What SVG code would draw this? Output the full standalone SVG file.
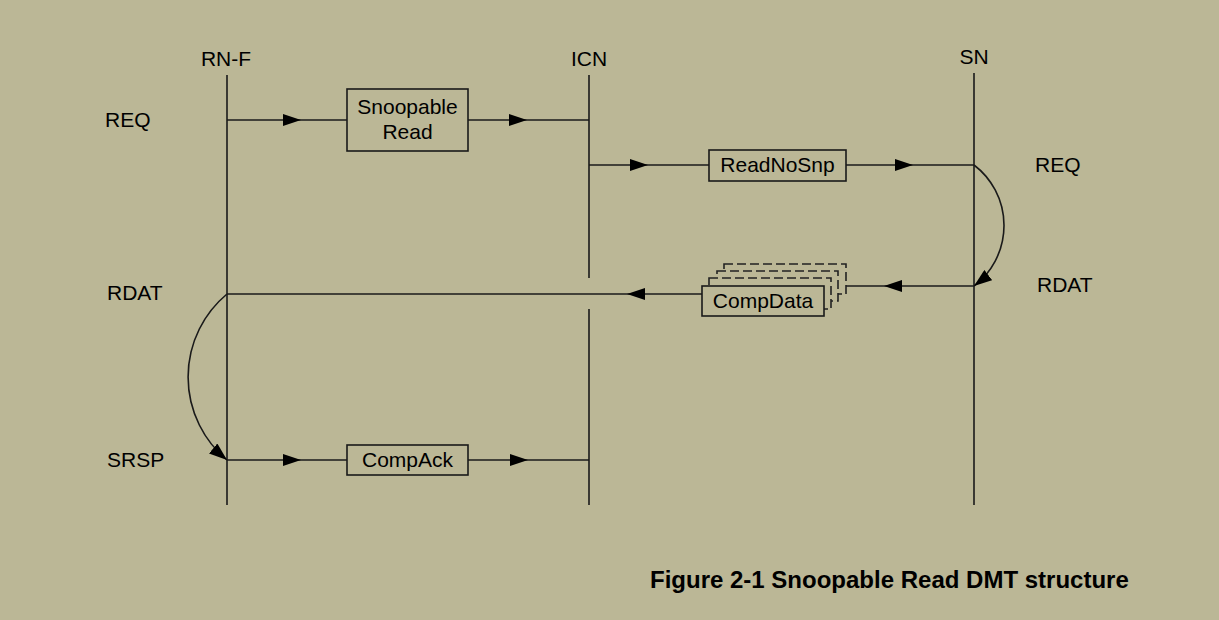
<svg xmlns="http://www.w3.org/2000/svg" width="1219" height="620" viewBox="0 0 1219 620">
<style>
  text { font-family: "Liberation Sans", Arial, sans-serif; font-size: 21px; fill: #000; }
  .title { font-weight: bold; font-size: 24px; }
  .life { stroke: #1a1a1a; stroke-width: 1.6; fill: none; }
  .ln { stroke: #1a1a1a; stroke-width: 1.6; fill: none; }
  .box { fill: #bbb796; stroke: #1a1a1a; stroke-width: 1.6; }
  .dash { fill: #bbb796; stroke: #222; stroke-width: 1.6; stroke-dasharray: 9 4; }
</style>
<defs>
  <marker id="ah" viewBox="0 0 18 12" refX="18" refY="6" markerWidth="18" markerHeight="12" markerUnits="userSpaceOnUse" orient="auto">
    <path d="M0,0 L18,6 L0,12 z" fill="#000"/>
  </marker>
  <marker id="ahc" viewBox="0 0 18 13" refX="18" refY="6.5" markerWidth="18" markerHeight="13" markerUnits="userSpaceOnUse" orient="auto">
    <path d="M0,0 L18,6.5 L0,13 z" fill="#000"/>
  </marker>
</defs>
<rect width="1219" height="620" fill="#bbb796"/>

<g id="lifelines">
  <g id="rnf">
    <text x="226" y="66" text-anchor="middle">RN-F</text>
    <line class="life" x1="227" y1="75" x2="227" y2="505"/>
  </g>
  <g id="icn">
    <text x="589" y="66" text-anchor="middle">ICN</text>
    <line class="life" x1="589" y1="75" x2="589" y2="278"/>
    <line class="life" x1="589" y1="309" x2="589" y2="505"/>
  </g>
  <g id="sn">
    <text x="974" y="64" text-anchor="middle">SN</text>
    <line class="life" x1="974" y1="73" x2="974" y2="505"/>
  </g>
</g>

<g id="labels">
  <text x="105" y="127">REQ</text>
  <text x="107" y="300">RDAT</text>
  <text x="107" y="467">SRSP</text>
  <text x="1035" y="172">REQ</text>
  <text x="1037" y="292">RDAT</text>
</g>

<g id="connectors">
  <path class="ln" d="M227,120 H301" marker-end="url(#ah)"/>
  <path class="ln" d="M301,120 H347"/>
  <path class="ln" d="M468,120 H527" marker-end="url(#ah)"/>
  <path class="ln" d="M527,120 H589"/>
  <path class="ln" d="M589,165 H648" marker-end="url(#ah)"/>
  <path class="ln" d="M648,165 H709"/>
  <path class="ln" d="M846,165 H913" marker-end="url(#ah)"/>
  <path class="ln" d="M913,165 H974"/>
  <path class="ln" d="M974,165 A76,76 0 0 1 974,286" marker-end="url(#ahc)"/>
  <path class="ln" d="M974,286 H884" marker-end="url(#ah)"/>
  <path class="ln" d="M884,286 H846"/>
  <path class="ln" d="M702,294 H627" marker-end="url(#ah)"/>
  <path class="ln" d="M627,294 H227"/>
  <path class="ln" d="M227,294 A108,108 0 0 0 227,460" marker-end="url(#ahc)"/>
  <path class="ln" d="M227,460 H301" marker-end="url(#ah)"/>
  <path class="ln" d="M301,460 H347"/>
  <path class="ln" d="M468,460 H528" marker-end="url(#ah)"/>
  <path class="ln" d="M528,460 H589"/>
</g>

<g id="snoopable-read">
  <rect class="box" x="347" y="89" width="121" height="62"/>
  <text x="407.5" y="114" text-anchor="middle">Snoopable</text>
  <text x="407.5" y="139" text-anchor="middle">Read</text>
</g>

<g id="readnosnp">
  <rect class="box" x="709" y="150" width="137" height="31"/>
  <text x="777.5" y="172" text-anchor="middle">ReadNoSnp</text>
</g>

<g id="compdata">
  <rect class="dash" x="724" y="264" width="122" height="30"/>
  <rect class="dash" x="717" y="271" width="121" height="30"/>
  <rect class="dash" x="709" y="278" width="122" height="31"/>
  <rect class="box" x="702" y="286" width="122" height="30"/>
  <text x="763" y="308" text-anchor="middle">CompData</text>
</g>

<g id="compack">
  <rect class="box" x="347" y="445" width="121" height="30"/>
  <text x="407.5" y="467" text-anchor="middle">CompAck</text>
</g>

<text class="title" x="650" y="588">Figure 2-1 Snoopable Read DMT structure</text>
</svg>
